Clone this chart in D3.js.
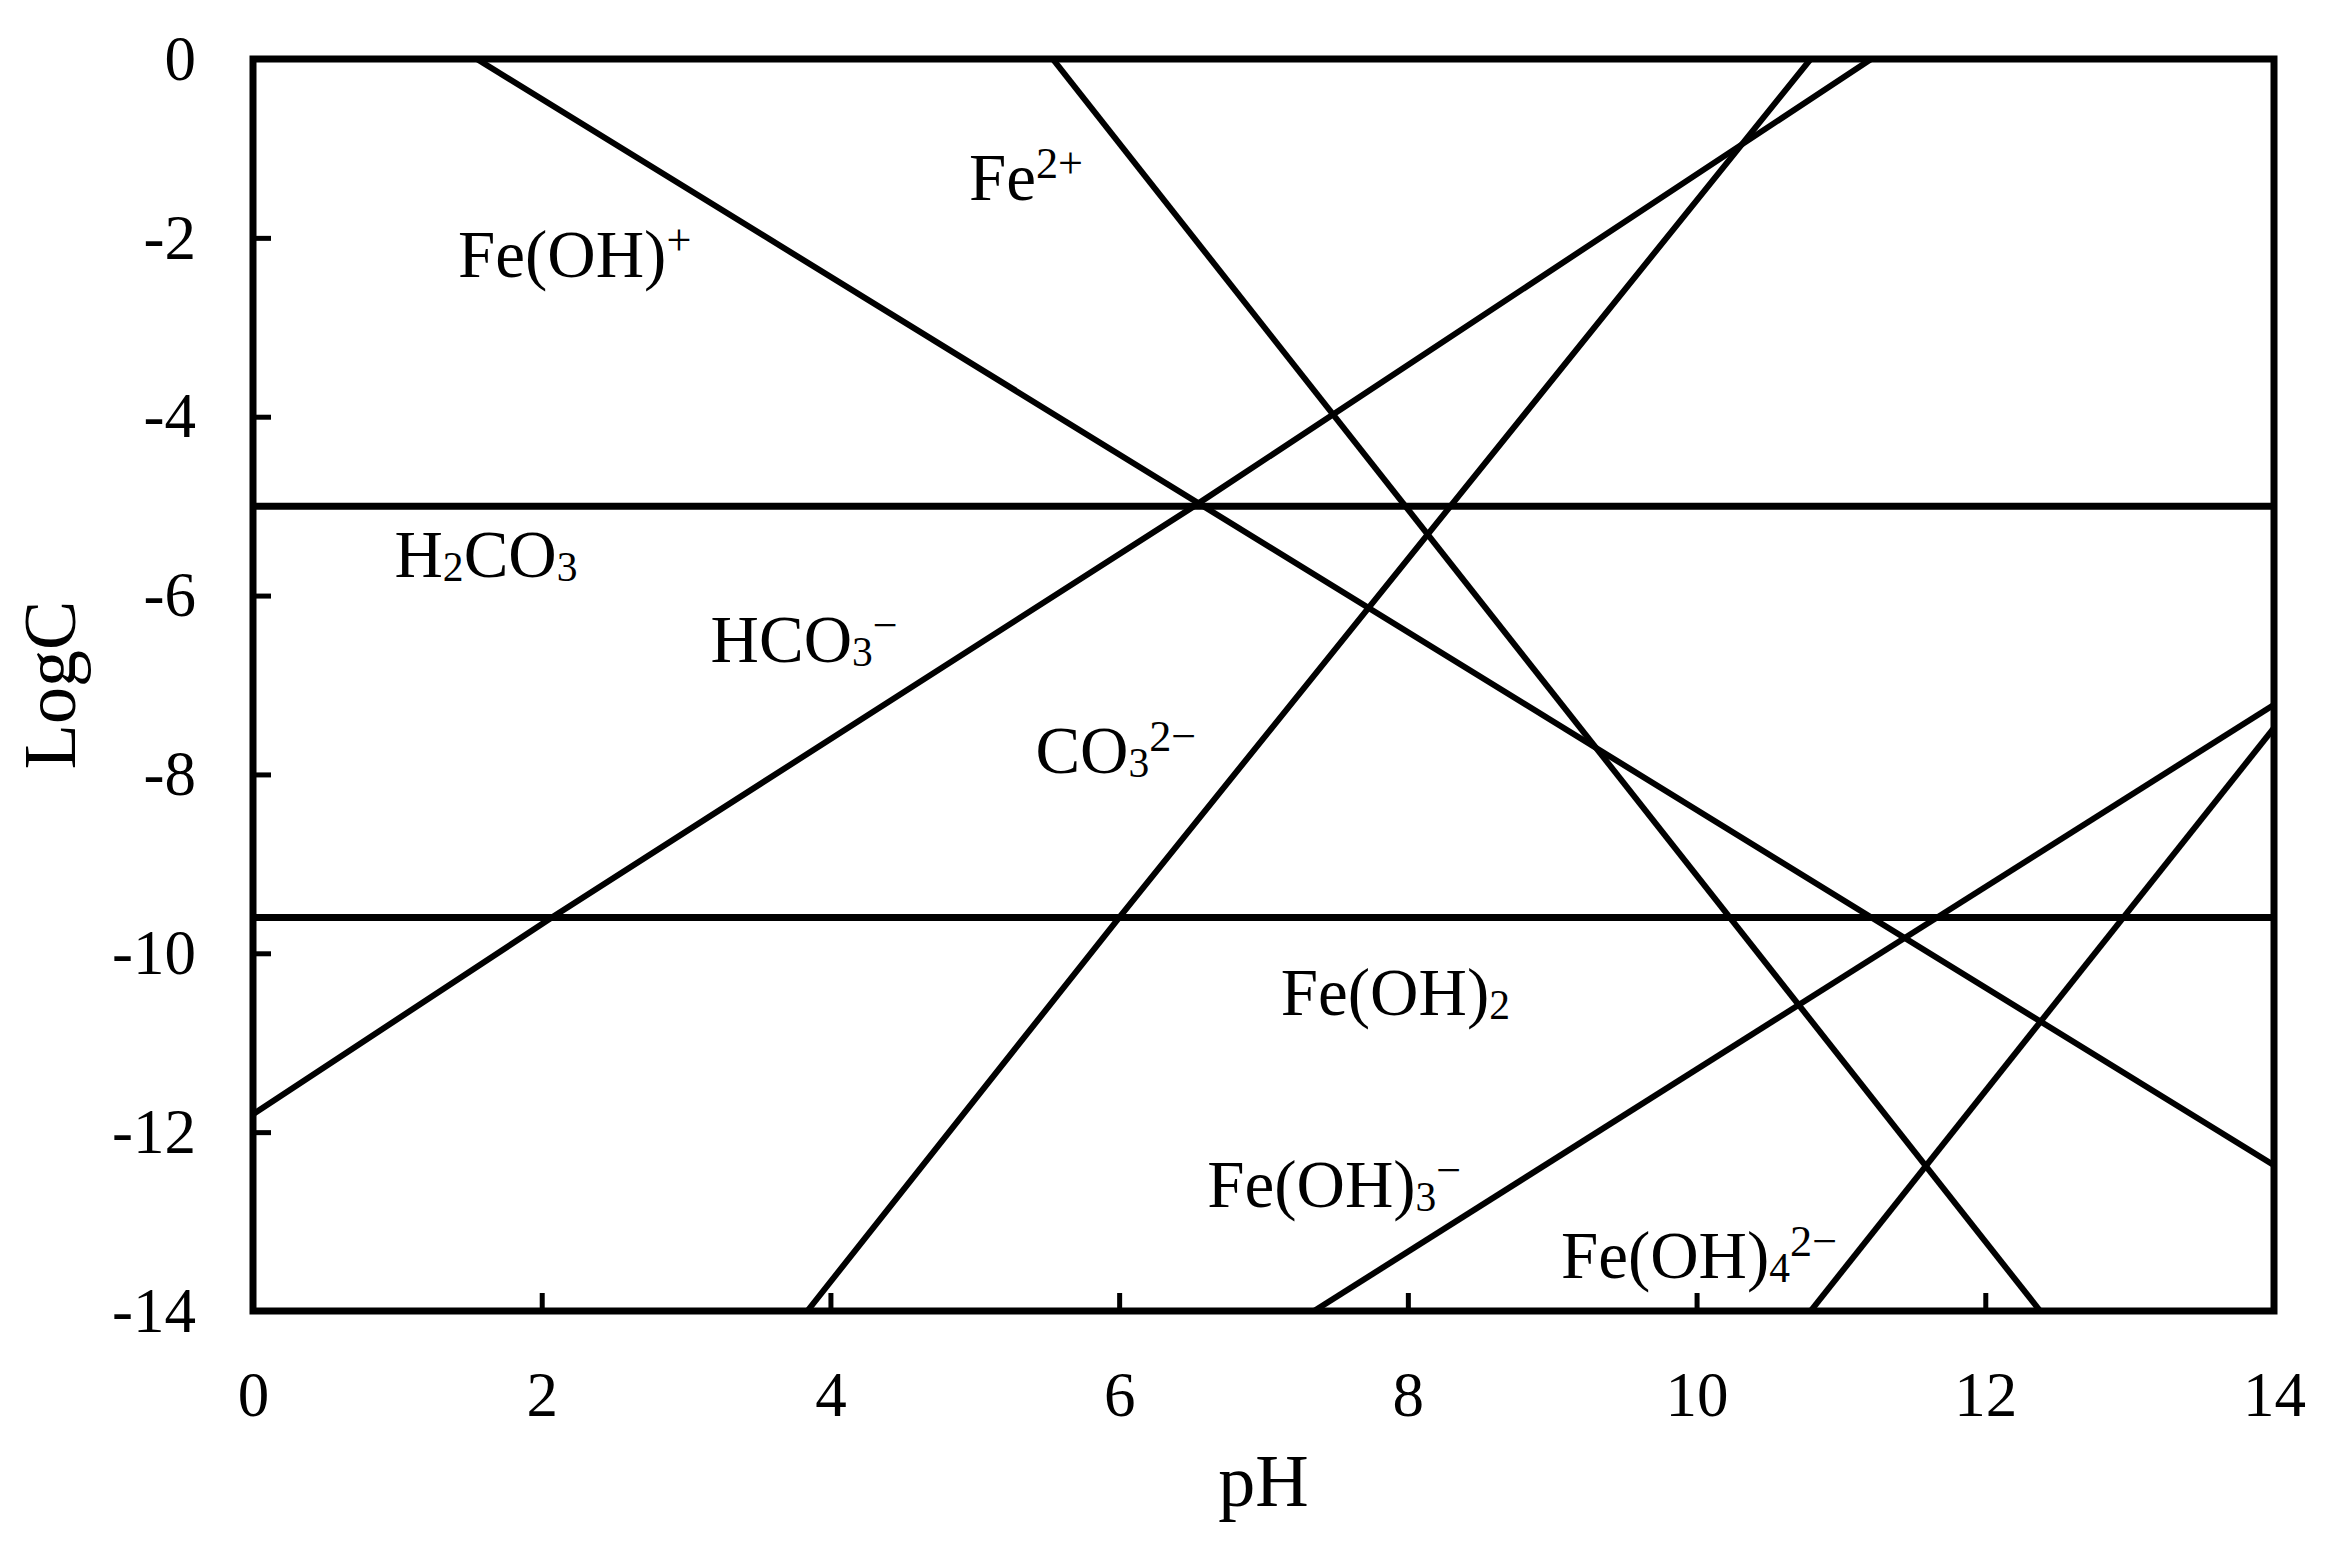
<!DOCTYPE html>
<html>
<head>
<meta charset="utf-8">
<script src="https://cdn.jsdelivr.net/npm/d3@7/dist/d3.min.js"></script>
<style>
  html, body { margin: 0; padding: 0; background: #fff; }
  svg { display: block; }
  text { font-family: "Liberation Serif", "Times New Roman", serif; fill: #000; }
</style>
</head>
<body>
<svg id="chart" width="2331" height="1542"></svg>
<script>
// ---- data (pH, logC) ----
const phTicks = [0, 2, 4, 6, 8, 10, 12, 14];
const logCTicks = [0, -2, -4, -6, -8, -10, -12, -14];

const feOHPlusLine  = [[1.55, 0], [14, -12.37]];
const fe2PlusLine   = [[5.54, 0], [12.38, -14]];
const hco3Line      = [[0, -11.8], [2.07, -9.6], [6.52, -5], [11.21, 0]];
const co3Line       = [[3.84, -14], [6.0, -9.6], [10.79, 0]];
const feOH3Line     = [[7.35, -14], [14, -7.22]];
const feOH4Line     = [[10.79, -14], [14, -7.48]];
const h2co3Level    = [[0, -5], [14, -5]];
const feOH2Level    = [[0, -9.6], [14, -9.6]];

const slopedLines = [feOHPlusLine, fe2PlusLine, hco3Line, co3Line, feOH3Line, feOH4Line];
const levelLines  = [h2co3Level, feOH2Level];

// species labels: parts [text, kind] where kind = n (normal), sub, sup ; anchor in data coords
const speciesLabels = [
  { parts: [["Fe(OH)", "n"], ["+", "sup"]], at: [1.42, -2.44] },
  { parts: [["Fe", "n"], ["2+", "sup"]], at: [4.96, -1.58] },
  { parts: [["H", "n"], ["2", "sub"], ["CO", "n"], ["3", "sub"]], at: [0.98, -5.79] },
  { parts: [["HCO", "n"], ["3", "sub"], ["\u2212", "sup"]], at: [3.17, -6.74] },
  { parts: [["CO", "n"], ["3", "sub"], ["2\u2212", "sup"]], at: [5.42, -7.98] },
  { parts: [["Fe(OH)", "n"], ["2", "sub"]], at: [7.12, -10.69] },
  { parts: [["Fe(OH)", "n"], ["3", "sub"], ["\u2212", "sup"]], at: [6.61, -12.84] },
  { parts: [["Fe(OH)", "n"], ["4", "sub"], ["2\u2212", "sup"]], at: [9.06, -13.63] }
];

const xTitle = "pH";
const yTitle = "LogC";

// ---- layout ----
const L = 253, R = 2274, T = 59, B = 1311;
const svg = d3.select("#chart");

const x = d3.scaleLinear().domain([0, 14]).range([L, R]);
const y = d3.scaleLinear().domain([-14, 0]).range([B, T]);

const tickFont = 63;

// axes
const xAxis = d3.axisBottom(x).tickValues(phTicks).tickFormat(d => String(d))
  .tickSizeInner(-18).tickSizeOuter(0).tickPadding(60);
const yAxis = d3.axisLeft(y).tickValues(logCTicks).tickFormat(d => String(d))
  .tickSizeInner(-18).tickSizeOuter(0).tickPadding(57);

const gx = svg.append("g").attr("transform", `translate(0,${B})`).call(xAxis);
const gy = svg.append("g").attr("transform", `translate(${L},0)`).call(yAxis);
[gx, gy].forEach(g => {
  g.select(".domain").remove();
  g.selectAll(".tick line").attr("stroke", "#000").attr("stroke-width", 5);
  g.selectAll(".tick text").attr("font-size", tickFont)
    .attr("font-family", "'Liberation Serif', 'Times New Roman', serif").attr("fill", "#000");
});

// clip for data lines
svg.append("clipPath").attr("id", "plotclip")
  .append("rect").attr("x", L).attr("y", T).attr("width", R - L).attr("height", B - T);

const line = d3.line().x(d => x(d[0])).y(d => y(d[1]));
const plot = svg.append("g").attr("clip-path", "url(#plotclip)");

plot.selectAll("path.level").data(levelLines).join("path")
  .attr("class", "level").attr("d", line)
  .attr("fill", "none").attr("stroke", "#000").attr("stroke-width", 7);

plot.selectAll("path.sloped").data(slopedLines).join("path")
  .attr("class", "sloped").attr("d", line)
  .attr("fill", "none").attr("stroke", "#000").attr("stroke-width", 6);

// frame
svg.append("rect").attr("x", L).attr("y", T).attr("width", R - L).attr("height", B - T)
  .attr("fill", "none").attr("stroke", "#000").attr("stroke-width", 7);

// species labels
const labelFont = 67;
speciesLabels.forEach(lab => {
  const t = svg.append("text")
    .attr("x", x(lab.at[0])).attr("y", y(lab.at[1]))
    .attr("font-size", labelFont);
  let shift = 0; // current baseline offset in px
  lab.parts.forEach(([s, kind]) => {
    let target = 0, size = labelFont;
    if (kind === "sub") { target = 0.06 * labelFont; size = labelFont * 0.62; }
    if (kind === "sup") { target = -0.33 * labelFont; size = labelFont * 0.66; }
    t.append("tspan").attr("dy", target - shift).attr("font-size", size).text(s);
    shift = target;
  });
});

// axis titles
svg.append("text").attr("x", (L + R) / 2).attr("y", 1506)
  .attr("text-anchor", "middle").attr("font-size", 74).text(xTitle);
svg.append("text")
  .attr("transform", `translate(75,${(T + B) / 2}) rotate(-90)`)
  .attr("text-anchor", "middle").attr("font-size", 74).text(yTitle);
</script>
</body>
</html>
